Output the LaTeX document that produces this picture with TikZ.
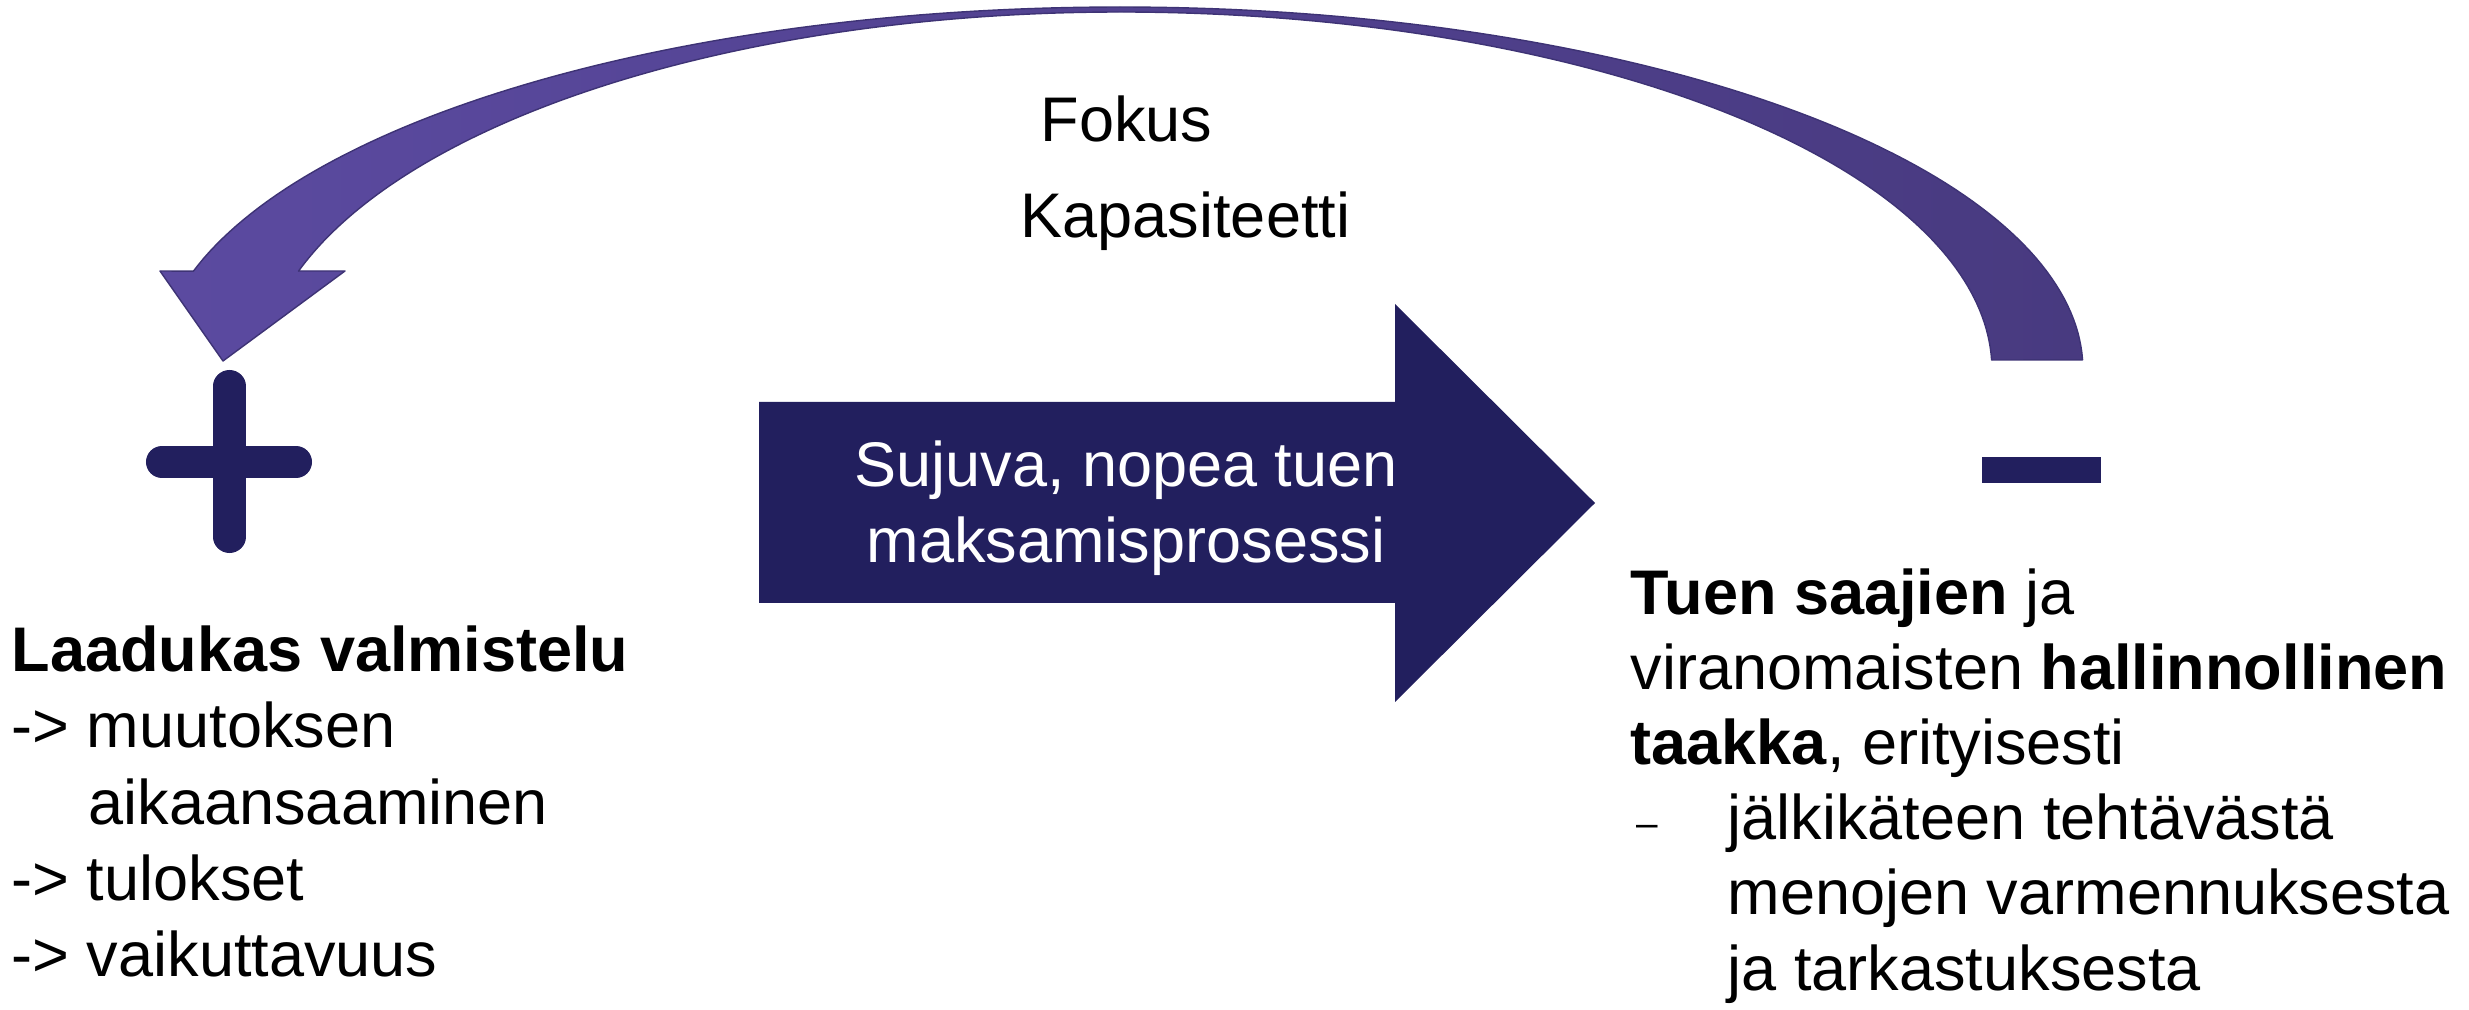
\documentclass[tikz,border=0pt]{standalone}
\usepackage{fontspec}
\setmainfont{Liberation Sans}
\definecolor{navy}{HTML}{221F5E}
\definecolor{arcL}{HTML}{5B4AA0}
\definecolor{arcR}{HTML}{483A80}
\definecolor{arcEdge}{HTML}{3E3375}
\newcommand{\fsz}{\fontsize{17.93}{21.5}\selectfont}
\begin{document}
\begin{tikzpicture}[x=0.01cm,y=-0.01cm,
  txt/.style={anchor=base west,inner sep=0pt,font=\fsz},
  wtxt/.style={anchor=base,inner sep=0pt,font=\fsz,text=white},
  signbar/.style={draw=navy,line cap=round,line width=0.32cm},
]
\useasboundingbox (0,0) rectangle (2469,1010);
% curved feedback arrow
\shadedraw[left color=arcL,right color=arcR,draw=arcEdge,line width=0.4pt,line join=round]
  plot[domain=1.6:164.2,samples=150,variable=\t] ({1120+963*cos(\t)},{370-363*sin(\t)})
  -- (160,271) -- (223,361) -- (345,271) -- (298.6,271)
  -- plot[domain=162.8:90,samples=90,variable=\t] ({1120+860*cos(\t)},{380-368*sin(\t)})
  -- plot[domain=90:1.6,samples=90,variable=\t] ({1120+872*cos(\t)},{370-358*sin(\t)})
  -- cycle;
% plus sign
\draw[signbar] (229.5,386) -- (229.5,537);
\draw[signbar] (162,462) -- (296,462);
% minus sign
\fill[navy] (1982,457) rectangle (2101,483);
% big arrow
\fill[navy] (759,402) -- (1395,402) -- (1395,304) -- (1595,503) -- (1395,702) -- (1395,603) -- (759,603) -- cycle;
\node[wtxt] (proc1) at (1126,487) {Sujuva, nopea tuen};
\node[wtxt] (proc2) at (1126,563) {maksamisprosessi};
% top labels
\node[txt] (fokus) at (1040,142) {Fokus};
\node[txt] (kap) at (1020,238) {Kapasiteetti};
% left block
\node[txt] (l1) at (11,672) {\textbf{Laadukas valmistelu}};
\node[txt] (l2) at (11,748) {-> muutoksen};
\node[txt] (l3) at (88,824) {aikaansaaminen};
\node[txt] (l4) at (11,900) {-> tulokset};
\node[txt] (l5) at (11,976) {-> vaikuttavuus};
% right block
\node[txt] (r1) at (1630,615) {\textbf{Tuen saajien} ja};
\node[txt] (r2) at (1630,690) {viranomaisten \textbf{hallinnollinen}};
\node[txt] (r3) at (1630,765) {\textbf{taakka}, erityisesti};
\node[txt,font=\fontsize{11}{13}\selectfont] (rd) at (1636,837) {–};
\node[txt] (r4) at (1727,840) {jälkikäteen tehtävästä};
\node[txt] (r5) at (1727,915) {menojen varmennuksesta};
\node[txt] (r6) at (1727,990) {ja tarkastuksesta};
\end{tikzpicture}
\end{document}
